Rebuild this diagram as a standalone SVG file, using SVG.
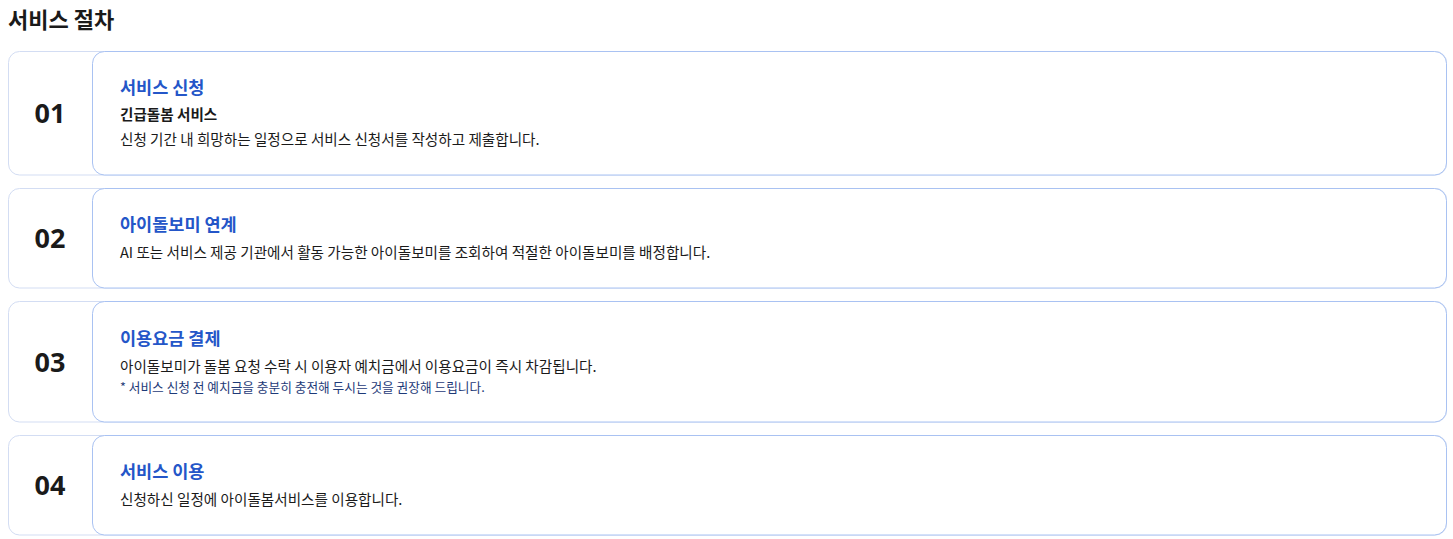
<svg xmlns="http://www.w3.org/2000/svg" width="1453" height="539" viewBox="0 0 1453 539">
<style>
.outer{fill:#fff;stroke:#d3ddf3;stroke-width:1}
.inner{fill:#fff;stroke:#a9c2f2;stroke-width:1}
.num{font-family:"Noto Sans","Noto Sans CJK KR",sans-serif;font-weight:700;font-size:27px;fill:#1a1a1a;text-anchor:middle}
.ttl{font-family:"Noto Sans CJK KR",sans-serif;font-weight:700;font-size:17.5px;fill:#2456c8}
.sub{font-family:"Noto Sans CJK KR",sans-serif;font-weight:700;font-size:14.6px;fill:#1a1a1a}
.body{font-family:"Noto Sans CJK KR",sans-serif;font-size:14.6px;fill:#1a1a1a}
.note{font-family:"Noto Sans CJK KR",sans-serif;font-size:12.7px;fill:#1e3a78}
.h{font-family:"Noto Sans CJK KR",sans-serif;font-weight:700;font-size:22px;fill:#1a1a1a}
</style>
<text class="h" x="8" y="28">서비스 절차</text>
<g id="step1">
<rect class="outer" x="8.5" y="51.5" width="1438" height="123.5" rx="11"/>
<rect class="inner" x="92.5" y="51.5" width="1354" height="123.5" rx="12"/>
<text class="num" x="50" y="123">01</text>
<text class="ttl" x="120" y="94">서비스 신청</text>
<text class="sub" x="120" y="120">긴급돌봄 서비스</text>
<text class="body" x="120" y="145">신청 기간 내 희망하는 일정으로 서비스 신청서를 작성하고 제출합니다.</text>
</g>
<g id="step2">
<rect class="outer" x="8.5" y="188.5" width="1438" height="99.5" rx="11"/>
<rect class="inner" x="92.5" y="188.5" width="1354" height="99.5" rx="12"/>
<text class="num" x="50" y="248">02</text>
<text class="ttl" x="120" y="231">아이돌보미 연계</text>
<text class="body" x="120" y="258">AI 또는 서비스 제공 기관에서 활동 가능한 아이돌보미를 조회하여 적절한 아이돌보미를 배정합니다.</text>
</g>
<g id="step3">
<rect class="outer" x="8.5" y="301.5" width="1438" height="120.5" rx="11"/>
<rect class="inner" x="92.5" y="301.5" width="1354" height="120.5" rx="12"/>
<text class="num" x="50" y="372">03</text>
<text class="ttl" x="120" y="345">이용요금 결제</text>
<text class="body" x="120" y="372">아이돌보미가 돌봄 요청 수락 시 이용자 예치금에서 이용요금이 즉시 차감됩니다.</text>
<text class="note" x="120" y="392">* 서비스 신청 전 예치금을 충분히 충전해 두시는 것을 권장해 드립니다.</text>
</g>
<g id="step4">
<rect class="outer" x="8.5" y="435.5" width="1438" height="99.5" rx="11"/>
<rect class="inner" x="92.5" y="435.5" width="1354" height="99.5" rx="12"/>
<text class="num" x="50" y="495">04</text>
<text class="ttl" x="120" y="478">서비스 이용</text>
<text class="body" x="120" y="505">신청하신 일정에 아이돌봄서비스를 이용합니다.</text>
</g>
<g id="connectors"/>
</svg>
